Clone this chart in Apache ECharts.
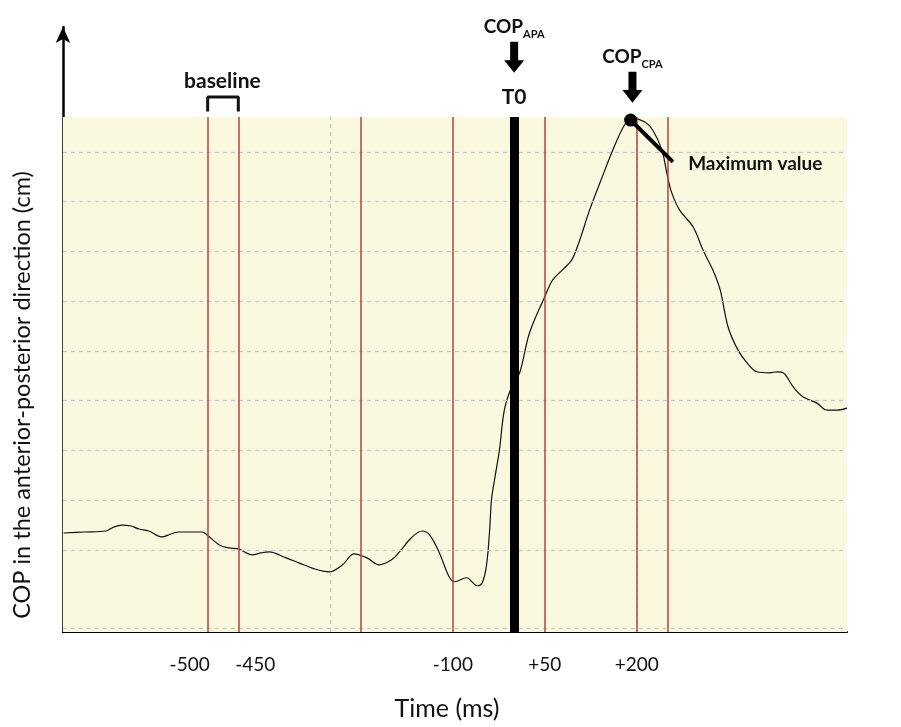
<!DOCTYPE html>
<html>
<head>
<meta charset="utf-8">
<script src="https://cdn.jsdelivr.net/npm/echarts@6/dist/echarts.min.js"></script>
<style>
html, body { margin: 0; padding: 0; background: #fff; }
#chart { width: 901px; height: 727px; }
</style>
</head>
<body>
<div id="chart"></div>
<script>
// time relative to T0 (ms) and COP position (arbitrary units, one grid step = 1)
var timeMs = [-735, -702, -666, -653, -640, -625, -612, -596, -575, -560, -547, -509, -501, -481, -465, -450,
    -427, -413, -400, -372, -351, -326, -302, -280, -261, -240, -220, -200, -187, -168, -150, -138, -122,
    -106, -97, -78, -60, -52, -45, -40, -37, -32, -24, -16, -4, 9, 25, 50, 63, 79, 94, 107, 123, 140, 161,
    180, 192, 213, 226, 241, 249, 257, 270, 292, 308, 324, 336, 349, 365, 380, 396, 417, 429, 439, 455,
    471, 494, 510, 527, 543];
var copValues = [1.34, 1.36, 1.38, 1.46, 1.50, 1.48, 1.42, 1.38, 1.26, 1.32, 1.36, 1.36, 1.30, 1.10, 1.04, 1.02,
    0.90, 0.94, 0.96, 0.84, 0.74, 0.62, 0.56, 0.70, 0.92, 0.84, 0.70, 0.80, 0.96, 1.24, 1.38, 1.30, 0.94,
    0.46, 0.36, 0.44, 0.28, 0.34, 0.70, 1.40, 2.01, 2.41, 3.01, 3.81, 4.28, 4.56, 5.36, 6.09, 6.43, 6.63,
    6.83, 7.23, 7.83, 8.38, 9.04, 9.54, 9.68, 9.60, 9.44, 9.04, 8.58, 8.18, 7.83, 7.49, 7.03, 6.63, 6.23,
    5.48, 5.02, 4.76, 4.58, 4.56, 4.58, 4.56, 4.28, 4.08, 3.95, 3.81, 3.81, 3.85];

var tickTimes = [-500, -450, -100, 50, 200];
var markerTimes = [-500, -450, -250, -100, 50, 200, 250];
var gridTimes = [-300, 200];
var gridLevels = [-0.57, 1, 2, 3, 4, 5, 6, 7, 8, 9];
var baselineRange = [-500, -450];
var t0Time = 0;
var peakPoint = [190, 9.64];
var pointerEnd = [259, 8.80];

var xMin = -736, xMax = 543;
var yMin = -0.65, yMax = 11.51, plotTop = 9.7;

var FONT = 'Lato, "Open Sans", sans-serif';
var arrowPath = 'path://M6,0 L14,0 L14,19 L20,19 L10,32 L0,19 L6,19 Z';

function vLine(t) {
    return [{ coord: [t, yMin] }, { coord: [t, plotTop] }];
}

function textPoint(coord, label) {
    return {
        coord: coord, symbol: 'circle', symbolSize: 1,
        itemStyle: { color: 'rgba(0,0,0,0)' },
        label: Object.assign({ show: true, position: 'inside', color: '#111', fontFamily: FONT, fontWeight: 'bold' }, label)
    };
}

var copData = timeMs.map(function (t, i) { return [t, copValues[i]]; });
var bracketData = [
    [baselineRange[0], 9.81], [baselineRange[0], 10.105],
    [baselineRange[1], 10.105], [baselineRange[1], 9.81]
];

var subRich = {
    m: { fontSize: 19, fontWeight: 'bold', fontFamily: FONT, color: '#111', lineHeight: 26, verticalAlign: 'middle' },
    s: { fontSize: 11, fontWeight: 'bold', fontFamily: FONT, color: '#111', lineHeight: 26, verticalAlign: 'bottom' }
};

var markBase = { silent: true, symbol: 'none', label: { show: false }, emphasis: { disabled: true }, animation: false };

var chart = echarts.init(document.getElementById('chart'));
var option = {
    animation: false,
    grid: { left: 63, right: 54, top: 27, bottom: 95 },
    xAxis: {
        type: 'value', min: xMin, max: xMax,
        name: 'Time (ms)', nameLocation: 'middle', nameGap: 64,
        nameTextStyle: { fontSize: 25, fontFamily: FONT, color: '#111', padding: [0, 16, 0, 0] },
        axisLine: { onZero: false, lineStyle: { color: '#000', width: 2 } },
        axisTick: { show: false },
        splitLine: { show: false },
        axisLabel: {
            customValues: tickTimes, margin: 23, fontSize: 19, fontFamily: FONT, color: '#111',
            formatter: function (v) {
                var s = v > 0 ? '+' + v : '' + v;
                if (v === -500) return '{l|' + s + '}';
                if (v === -450) return '{r|' + s + '}';
                return s;
            },
            rich: {
                l: { padding: [0, 36, 0, 0], fontSize: 19, fontFamily: FONT, color: '#111' },
                r: { padding: [0, 0, 0, 34], fontSize: 19, fontFamily: FONT, color: '#111' }
            }
        }
    },
    yAxis: {
        type: 'value', min: yMin, max: yMax,
        axisLine: { show: true, onZero: false, symbol: ['none', 'arrow'], symbolSize: [11, 16], lineStyle: { color: '#000', width: 2.5 } },
        axisTick: { show: false },
        axisLabel: { show: false },
        splitLine: { show: false }
    },
    graphic: [{
        type: 'text', x: 22, y: 395, rotation: Math.PI / 2,
        style: {
            text: 'COP in the anterior-posterior direction (cm)',
            fontSize: 23.5, fontFamily: FONT, fill: '#111',
            align: 'center', verticalAlign: 'middle', textAlign: 'center', textVerticalAlign: 'middle'
        }
    }],
    series: [
        {
            name: 'background', type: 'line', data: [], z: 1, silent: true,
            markArea: {
                silent: true, animation: false,
                itemStyle: { color: '#FBF8E0' },
                data: [[{ yAxis: yMin }, { yAxis: plotTop }]]
            },
            markLine: Object.assign({}, markBase, {
                lineStyle: { color: '#c6c6c6', type: [4, 4], width: 1.2 },
                data: gridLevels.map(function (v) { return { yAxis: v }; })
                    .concat(gridTimes.map(vLine))
            })
        },
        {
            name: 'events', type: 'line', data: [], z: 2, silent: true,
            markLine: Object.assign({}, markBase, {
                lineStyle: { color: '#B5453A', type: 'solid', width: 1.5 },
                data: markerTimes.map(vLine)
            })
        },
        {
            name: 'COP', type: 'line', data: copData, z: 3,
            smooth: 0.35, showSymbol: false, symbol: 'none',
            lineStyle: { color: '#111', width: 1.2 },
            silent: true
        },
        {
            name: 'baseline', type: 'line', data: bracketData, z: 4, clip: false,
            showSymbol: false, symbol: 'none', silent: true,
            lineStyle: { color: '#111', width: 3 },
            markLine: Object.assign({}, markBase, {
                data: [
                    [{ coord: [t0Time, yMin], lineStyle: { color: '#000', width: 9 } }, { coord: [t0Time, plotTop] }],
                    [{ coord: peakPoint, lineStyle: { color: '#000', width: 4 } }, { coord: pointerEnd }]
                ],
                lineStyle: { type: 'solid' }
            }),
            markPoint: {
                silent: true, animation: false,
                data: [
                    { coord: peakPoint, symbol: 'circle', symbolSize: 13, itemStyle: { color: '#000' }, label: { show: false } },
                    {
                        coord: [t0Time, 10.9], symbol: arrowPath, symbolSize: [20, 31], itemStyle: { color: '#000' },
                        label: { show: true, position: 'top', distance: 2, formatter: '{m|COP}{s|APA}', rich: subRich }
                    },
                    {
                        coord: [193, 10.3], symbol: arrowPath, symbolSize: [20, 31], itemStyle: { color: '#000' },
                        label: { show: true, position: 'top', distance: 2, formatter: '{m|COP}{s|CPA}', rich: subRich }
                    },
                    textPoint([t0Time, 10.105], { formatter: 'T0', fontSize: 21 }),
                    textPoint([-476, 10.41], { formatter: 'baseline', fontSize: 21 }),
                    textPoint([283, 8.76], { formatter: 'Maximum value', fontSize: 19, position: 'right', distance: 0 })
                ]
            }
        }
    ]
};
chart.setOption(option);
</script>
</body>
</html>
